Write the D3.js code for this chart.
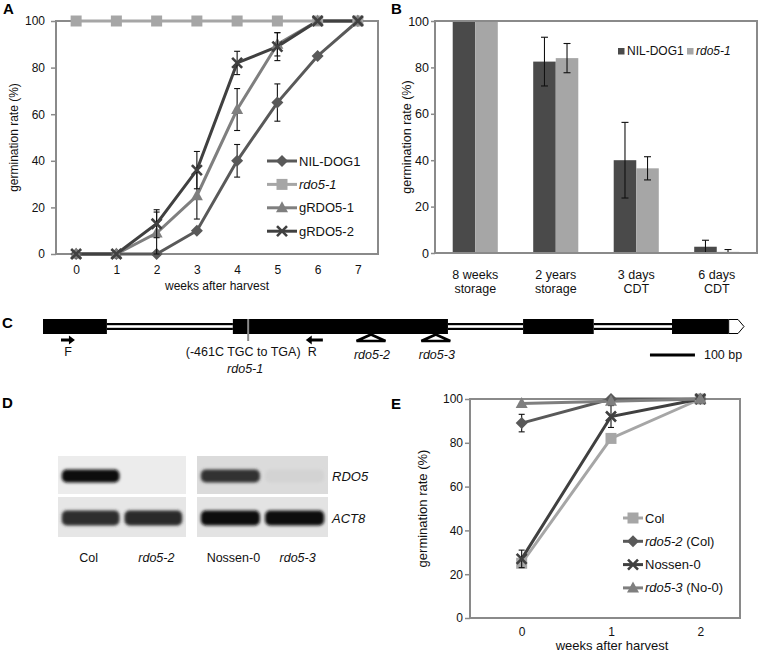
<!DOCTYPE html>
<html>
<head>
<meta charset="utf-8">
<script src="https://cdn.jsdelivr.net/npm/d3@7"></script>
<style>
body { margin: 0; background: #fff; }
svg { font-family: "Liberation Sans", Arial, sans-serif; }
</style>
</head>
<body>
<svg id="fig" width="759" height="653"></svg>
<script>
// ---- panel A: germination over weeks after harvest
var weeksA = [0, 1, 2, 3, 4, 5, 6, 7];
var nilDog1 = [0, 0, 0, 10, 40, 65, 85, 100];
var nilDog1Err = [0, 0, 0, 0, 7, 8, 0, 0];
var rdo51 = [100, 100, 100, 100, 100, 100, 100, 100];
var gRdo51 = [0, 0, 9, 25, 62, 90, 100, 100];
var gRdo51Err = [0, 0, 9, 10, 9, 5, 0, 0];
var gRdo52 = [0, 0, 13, 36, 82, 89, 100, 100];
var gRdo52Err = [0, 0, 6, 8, 5, 6, 0, 0];

// ---- panel B: storage / controlled deterioration
var storageLine1 = ["8 weeks", "2 years", "3 days", "6 days"];
var storageLine2 = ["storage", "storage", "CDT", "CDT"];
var barNil = [100, 82.5, 40, 2.7];
var barNilErr = [0, 10.5, 16.3, 2.8];
var barRdo = [100, 84, 36.5, 0.5];
var barRdoErr = [0, 6.3, 5, 1];

// ---- panel C: gene model (bp)
var geneLen = 1558;
var exonsBp = [[0, 142], [422, 900], [1067, 1224], [1398, 1524]];
var utrBp = [1524, 1558];
var mutationBp = 456;
var primerF = [40, 71];
var primerR = [584, 622];
var insertNames = ["rdo5-2", "rdo5-3"];
var insertBp = [729, 873];
var scaleBarBp = [1349, 1449];

// ---- panel D: RT-PCR gel
var lanes = ["Col", "rdo5-2", "Nossen-0", "rdo5-3"];
var laneItalic = [false, true, false, true];
var bandRDO5 = [1.0, 0.0, 0.82, 0.04];
var bandACT8 = [0.85, 0.86, 1.0, 1.0];

// ---- panel E: germination of T-DNA lines
var weeksE = [0, 1, 2];
var colE = [25, 82, 100];
var colErr = [0, 0, 0];
var rdo52E = [89, 100, 100];
var rdo52Err = [4, 0, 0];
var nossenE = [27, 92, 100];
var nossenErr = [4, 5, 0];
var rdo53E = [98, 99, 100];
var rdo53Err = [0, 0, 0];

var frameCol = "#8a8a8a";
var svg = d3.select("#fig");

function shapePath(shape) {
    if (shape == "square") return "M-5.5,-5.5h11v11h-11z";
    if (shape == "diamond") return "M0,-6L6,0L0,6L-6,0Z";
    if (shape == "triangle") return "M0,-6.5L6,4.5L-6,4.5Z";
    return "M-5,-5L5,5M5,-5L-5,5";
}

function drawMarker(g, shape, color, x, y) {
    var p = g.append("path")
        .attr("d", shapePath(shape))
        .attr("transform", "translate(" + x + "," + y + ")");
    if (shape == "x") {
        p.attr("fill", "none").attr("stroke", color).attr("stroke-width", 2.6);
    } else {
        p.attr("fill", color);
    }
}

function labelText(sel, parts) {
    parts.forEach(function(p) {
        sel.append("tspan").text(p[0]).attr("font-style", p[1] ? "italic" : "normal");
    });
}

function linePanel(cfg) {
    var g = svg.append("g");
    var x = d3.scalePoint().domain(cfg.weeks).range(cfg.xRange).padding(0.5);
    var y = d3.scaleLinear().domain([0, 100]).range([cfg.bottom, cfg.top]);

    g.append("rect")
        .attr("x", cfg.left).attr("y", cfg.top)
        .attr("width", cfg.right - cfg.left).attr("height", cfg.bottom - cfg.top)
        .attr("fill", "none").attr("stroke", frameCol).attr("stroke-width", 2);

    var ya = g.append("g")
        .attr("transform", "translate(" + cfg.left + ",0)")
        .call(d3.axisLeft(y).tickValues([0, 20, 40, 60, 80, 100]).tickSize(5).tickPadding(cfg.tickPad));
    ya.select(".domain").remove();
    ya.selectAll("line").attr("stroke", frameCol).attr("stroke-width", 1.5);
    ya.selectAll("text").attr("font-size", 12).attr("fill", "#111");

    var xa = g.append("g")
        .attr("transform", "translate(0," + cfg.bottom + ")")
        .call(d3.axisBottom(x).tickSize(0).tickPadding(cfg.xPad));
    xa.select(".domain").remove();
    xa.selectAll("text").attr("font-size", 12).attr("fill", "#111");

    g.append("text")
        .attr("transform", "translate(" + cfg.yLabelX + "," + (cfg.top + cfg.bottom) / 2 + ") rotate(-90)")
        .attr("text-anchor", "middle").attr("font-size", cfg.yLabelSize).attr("fill", "#111")
        .text("germination rate (%)");
    g.append("text")
        .attr("x", cfg.xLabelX).attr("y", cfg.xLabelY)
        .attr("text-anchor", "middle").attr("font-size", cfg.xLabelSize).attr("fill", "#111")
        .text("weeks after harvest");

    var line = d3.line().x(function(d, i) { return x(cfg.weeks[i]); }).y(function(d) { return y(d); });

    cfg.series.forEach(function(s) {
        g.append("path").datum(s.values)
            .attr("d", line).attr("fill", "none")
            .attr("stroke", s.color).attr("stroke-width", 3);
    });
    cfg.series.forEach(function(s) {
        s.err.forEach(function(e, i) {
            if (e <= 0) return;
            var cx = x(cfg.weeks[i]);
            var y0 = y(Math.max(0, s.values[i] - e)), y1 = y(Math.min(100, s.values[i] + e));
            g.append("line").attr("x1", cx).attr("x2", cx).attr("y1", y0).attr("y2", y1)
                .attr("stroke", "#111").attr("stroke-width", 1.1);
            [s.values[i] - e, s.values[i] + e].forEach(function(v) {
                if (v < 0 || v > 100) return;
                g.append("line").attr("x1", cx - 3).attr("x2", cx + 3).attr("y1", y(v)).attr("y2", y(v))
                    .attr("stroke", "#111").attr("stroke-width", 1.1);
            });
        });
        s.values.forEach(function(v, i) {
            drawMarker(g, s.shape, s.color, x(cfg.weeks[i]), y(v));
        });
    });

    // legend
    cfg.series.forEach(function(s, i) {
        var ly = cfg.legY + i * cfg.legStep;
        g.append("line").attr("x1", cfg.legX).attr("x2", cfg.legX + cfg.legW)
            .attr("y1", ly).attr("y2", ly).attr("stroke", s.color).attr("stroke-width", 3);
        drawMarker(g, s.shape, s.color, cfg.legX + cfg.legW / 2, ly);
        var t = g.append("text").attr("x", cfg.legX + cfg.legW + 2).attr("y", ly + 4.5)
            .attr("font-size", 13).attr("fill", "#111");
        labelText(t, s.label);
    });
    return g;
}

// ---------- A
linePanel({
    weeks: weeksA, xRange: [56, 378], left: 56, right: 378, top: 21, bottom: 254,
    tickPad: 6, xPad: 11, yLabelX: 18, yLabelSize: 12,
    xLabelX: 217, xLabelY: 290, xLabelSize: 12,
    legX: 267, legW: 30, legY: 161, legStep: 23.4,
    series: [
        { values: nilDog1, err: nilDog1Err, color: "#595959", shape: "diamond", label: [["NIL-DOG1", false]] },
        { values: rdo51, err: [0,0,0,0,0,0,0,0], color: "#a6a6a6", shape: "square", label: [["rdo5-1", true]] },
        { values: gRdo51, err: gRdo51Err, color: "#7f7f7f", shape: "triangle", label: [["gRDO5-1", false]] },
        { values: gRdo52, err: gRdo52Err, color: "#404040", shape: "x", label: [["gRDO5-2", false]] }
    ]
});

// ---------- B
(function() {
    var g = svg.append("g");
    var left = 435, right = 757, top = 21, bottom = 253;
    var x = d3.scaleBand().domain(storageLine1).range([left, right]).paddingInner(0.44).paddingOuter(0.22);
    var sub = d3.scaleBand().domain(["nil", "rdo"]).range([0, x.bandwidth()]);
    var y = d3.scaleLinear().domain([0, 100]).range([bottom, top]);
    var cols = { nil: "#4a4a4a", rdo: "#a6a6a6" };
    var groups = [
        { key: "nil", values: barNil, err: barNilErr },
        { key: "rdo", values: barRdo, err: barRdoErr }
    ];

    groups.forEach(function(s) {
        g.selectAll(".bar-" + s.key).data(s.values).enter().append("rect")
            .attr("x", function(d, i) { return x(storageLine1[i]) + sub(s.key); })
            .attr("y", function(d) { return y(d); })
            .attr("width", sub.bandwidth())
            .attr("height", function(d) { return y(0) - y(d); })
            .attr("fill", cols[s.key]);
    });
    groups.forEach(function(s) {
        s.values.forEach(function(v, i) {
            var e = s.err[i];
            if (e <= 0) return;
            var cx = x(storageLine1[i]) + sub(s.key) + sub.bandwidth() / 2;
            var lo = Math.max(0, v - e), hi = v + e;
            g.append("line").attr("x1", cx).attr("x2", cx).attr("y1", y(lo)).attr("y2", y(hi))
                .attr("stroke", "#111").attr("stroke-width", 1.1);
            [lo, hi].forEach(function(w) {
                if (w <= 0) return;
                g.append("line").attr("x1", cx - 3.5).attr("x2", cx + 3.5).attr("y1", y(w)).attr("y2", y(w))
                    .attr("stroke", "#111").attr("stroke-width", 1.1);
            });
        });
    });

    g.append("rect").attr("x", left).attr("y", top).attr("width", right - left).attr("height", bottom - top)
        .attr("fill", "none").attr("stroke", frameCol).attr("stroke-width", 2);

    var ya = g.append("g").attr("transform", "translate(" + left + ",0)")
        .call(d3.axisLeft(y).tickValues([0, 20, 40, 60, 80, 100]).tickSize(4).tickPadding(2));
    ya.select(".domain").remove();
    ya.selectAll("line").attr("stroke", frameCol).attr("stroke-width", 1.5);
    ya.selectAll("text").attr("font-size", 12.5).attr("fill", "#111");

    storageLine1.forEach(function(c, i) {
        var cx = x(c) + x.bandwidth() / 2;
        var t = g.append("text").attr("x", cx).attr("text-anchor", "middle")
            .attr("font-size", 12.5).attr("fill", "#111");
        t.append("tspan").attr("x", cx).attr("y", 279).text(c);
        t.append("tspan").attr("x", cx).attr("y", 293).text(storageLine2[i]);
    });

    g.append("text")
        .attr("transform", "translate(411," + (top + bottom) / 2 + ") rotate(-90)")
        .attr("text-anchor", "middle").attr("font-size", 12.5).attr("fill", "#111")
        .text("germination rate (%)");

    // legend
    var leg = [["nil", "NIL-DOG1", false, 618], ["rdo", "rdo5-1", true, 687]];
    leg.forEach(function(l) {
        g.append("rect").attr("x", l[3]).attr("y", 48).attr("width", 6.5).attr("height", 6.5).attr("fill", cols[l[0]]);
        g.append("text").attr("x", l[3] + 9).attr("y", 55).attr("font-size", 12).attr("fill", "#111")
            .attr("font-style", l[2] ? "italic" : "normal").text(l[1]);
    });
})();

// ---------- C
(function() {
    var g = svg.append("g");
    var x = d3.scaleLinear().domain([0, geneLen]).range([43, 744]);
    var ex0 = 319, ex1 = 334;

    // introns: double line between exons
    for (var i = 0; i < exonsBp.length - 1; i++) {
        var a = x(exonsBp[i][1]), b = x(exonsBp[i + 1][0]);
        g.append("rect").attr("x", a).attr("y", 323).attr("width", b - a).attr("height", 7).attr("fill", "#000");
        g.append("rect").attr("x", a).attr("y", 325.2).attr("width", b - a).attr("height", 2.6).attr("fill", "#fff");
    }
    g.selectAll(".exon").data(exonsBp).enter().append("rect")
        .attr("x", function(d) { return x(d[0]); })
        .attr("y", ex0)
        .attr("width", function(d) { return x(d[1]) - x(d[0]); })
        .attr("height", ex1 - ex0)
        .attr("fill", "#000");
    var u0 = x(utrBp[0]), u1 = x(utrBp[1]);
    g.append("path")
        .attr("d", "M" + u0 + "," + (ex0 + 0.5) + "L" + (u1 - 6) + "," + (ex0 + 0.5) + "L" + u1 + "," + (ex0 + ex1) / 2 +
            "L" + (u1 - 6) + "," + (ex1 - 0.5) + "L" + u0 + "," + (ex1 - 0.5) + "Z")
        .attr("fill", "#fff").attr("stroke", "#000").attr("stroke-width", 1);

    // point mutation
    g.append("line").attr("x1", x(mutationBp)).attr("x2", x(mutationBp)).attr("y1", ex0).attr("y2", 341)
        .attr("stroke", "#8a8a8a").attr("stroke-width", 2);

    // primers
    function arrow(p, dir) {
        var a = dir > 0 ? x(p[0]) : x(p[1]);
        var b = dir > 0 ? x(p[1]) : x(p[0]);
        var yy = 340;
        g.append("line").attr("x1", a).attr("x2", b - dir * 5).attr("y1", yy).attr("y2", yy)
            .attr("stroke", "#000").attr("stroke-width", 3);
        g.append("path").attr("d", "M" + b + "," + yy + "L" + (b - dir * 6) + "," + (yy - 4.5) + "L" + (b - dir * 6) + "," + (yy + 4.5) + "Z")
            .attr("fill", "#000");
    }
    arrow(primerF, 1);
    arrow(primerR, -1);

    // insertions
    insertBp.forEach(function(bp, i) {
        var cx = x(bp);
        g.append("path").attr("d", "M" + cx + "," + (ex1 + 0.5) + "L" + (cx + 14.5) + ",341L" + (cx - 14.5) + ",341Z")
            .attr("fill", "#fff").attr("stroke", "#000").attr("stroke-width", 2.6).attr("stroke-linejoin", "miter");
        g.append("text").attr("x", cx + 1).attr("y", 359).attr("text-anchor", "middle")
            .attr("font-size", 12.5).attr("font-style", "italic").attr("fill", "#111").text(insertNames[i]);
    });

    g.append("text").attr("x", x((primerF[0] + primerF[1]) / 2)).attr("y", 356).attr("text-anchor", "middle")
        .attr("font-size", 12.5).attr("fill", "#111").text("F");
    g.append("text").attr("x", x((primerR[0] + primerR[1]) / 2) - 2).attr("y", 356).attr("text-anchor", "middle")
        .attr("font-size", 12.5).attr("fill", "#111").text("R");
    g.append("text").attr("x", x(mutationBp) - 5).attr("y", 356).attr("text-anchor", "middle")
        .attr("font-size", 12.5).attr("fill", "#111").text("(-461C TGC to TGA)");
    g.append("text").attr("x", x(mutationBp) - 3).attr("y", 373).attr("text-anchor", "middle")
        .attr("font-size", 12.5).attr("font-style", "italic").attr("fill", "#111").text("rdo5-1");

    // scale bar
    g.append("line").attr("x1", x(scaleBarBp[0])).attr("x2", x(scaleBarBp[1])).attr("y1", 355).attr("y2", 355)
        .attr("stroke", "#000").attr("stroke-width", 3);
    g.append("text").attr("x", x(scaleBarBp[1]) + 9).attr("y", 359).attr("font-size", 12.5).attr("fill", "#111")
        .text("100 bp");
})();

// ---------- D
(function() {
    var g = svg.append("g");
    var defs = svg.append("defs");
    defs.append("filter").attr("id", "blur").attr("x", "-20%").attr("y", "-50%").attr("width", "140%").attr("height", "200%")
        .append("feGaussianBlur").attr("stdDeviation", 1.4);

    var gels = [
        { lanes: lanes.slice(0, 2), x0: 58, x1: 186, bgTop: "#ececec", bgBot: "#e6e6e6" },
        { lanes: lanes.slice(2, 4), x0: 197, x1: 328, bgTop: "#dbdbdb", bgBot: "#e3e3e3" }
    ];
    var rows = [
        { name: "RDO5", y0: 456, y1: 494, bandY: 476, bandH: 13, vals: bandRDO5, key: "bgTop" },
        { name: "ACT8", y0: 497, y1: 537, bandY: 518, bandH: 15, vals: bandACT8, key: "bgBot" }
    ];
    var laneX = {};
    gels.forEach(function(gel) {
        var lx = d3.scaleBand().domain(gel.lanes).range([gel.x0, gel.x1]).paddingInner(0.08).paddingOuter(0.06);
        gel.lanes.forEach(function(l) { laneX[l] = { x: lx(l), w: lx.bandwidth() }; });
        rows.forEach(function(r) {
            var bg = gel[r.key];
            g.append("rect").attr("x", gel.x0).attr("y", r.y0).attr("width", gel.x1 - gel.x0).attr("height", r.y1 - r.y0)
                .attr("fill", bg);
            gel.lanes.forEach(function(l) {
                var v = r.vals[lanes.indexOf(l)];
                if (v <= 0) return;
                g.append("rect").attr("x", lx(l)).attr("y", r.bandY - r.bandH / 2)
                    .attr("width", lx.bandwidth()).attr("height", r.bandH).attr("rx", 5)
                    .attr("fill", d3.interpolateRgb(bg, "#0e0e0e")(v))
                    .attr("filter", "url(#blur)");
            });
        });
    });
    rows.forEach(function(r) {
        g.append("text").attr("x", 332).attr("y", r.bandY + 4.5).attr("font-size", 13).attr("font-style", "italic")
            .attr("fill", "#111").text(r.name);
    });
    lanes.forEach(function(l, i) {
        g.append("text").attr("x", laneX[l].x + laneX[l].w / 2 + (i == 0 ? -2 : 3)).attr("y", 562)
            .attr("text-anchor", "middle").attr("font-size", 12.5)
            .attr("font-style", laneItalic[i] ? "italic" : "normal").attr("fill", "#111").text(l);
    });
})();

// ---------- E
linePanel({
    weeks: weeksE, xRange: [477, 745], left: 470, right: 740, top: 399, bottom: 618,
    tickPad: 2, xPad: 9, yLabelX: 427, yLabelSize: 13,
    xLabelX: 612, xLabelY: 650, xLabelSize: 13,
    legX: 623, legW: 20, legY: 518, legStep: 23.3,
    series: [
        { values: colE, err: colErr, color: "#a6a6a6", shape: "square", label: [["Col", false]] },
        { values: rdo52E, err: rdo52Err, color: "#595959", shape: "diamond", label: [["rdo5-2", true], [" (Col)", false]] },
        { values: nossenE, err: nossenErr, color: "#404040", shape: "x", label: [["Nossen-0", false]] },
        { values: rdo53E, err: rdo53Err, color: "#7f7f7f", shape: "triangle", label: [["rdo5-3", true], [" (No-0)", false]] }
    ]
});

// panel letters
[["A", 3, 14], ["B", 391, 14], ["C", 2, 328], ["D", 2, 408], ["E", 391, 409]].forEach(function(p) {
    svg.append("text").attr("x", p[1]).attr("y", p[2]).attr("font-size", 15).attr("font-weight", "bold")
        .attr("fill", "#000").text(p[0]);
});
</script>
</body>
</html>
